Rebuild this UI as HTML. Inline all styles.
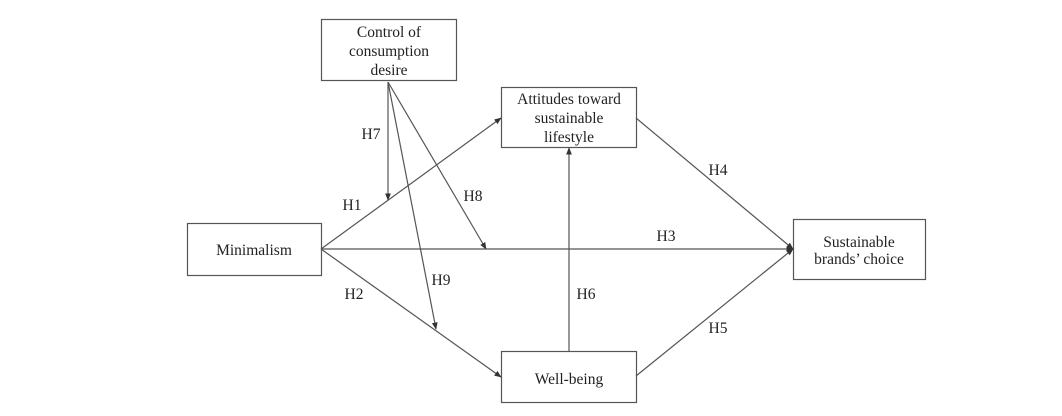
<!DOCTYPE html>
<html><head><meta charset="utf-8"><style>
html,body{margin:0;padding:0;background:#fff;}
svg{display:block;}
text{font-family:"Liberation Serif",serif;font-size:15.5px;fill:#222;}
</style></head><body>
<svg width="1062" height="416" viewBox="0 0 1062 416" xmlns="http://www.w3.org/2000/svg">
<defs>
<marker id="a" viewBox="0 0 10 10" refX="9" refY="5" markerWidth="6" markerHeight="6" orient="auto"><path d="M0,1 L10,5 L0,9 z" fill="#333"/></marker>
</defs>
<g fill="#fff" stroke="#555" stroke-width="1.2">
<rect x="321.5" y="19.5" width="135" height="61"/>
<rect x="501.5" y="87.5" width="135" height="60"/>
<rect x="187.5" y="223.5" width="134" height="52"/>
<rect x="793.5" y="219.5" width="132" height="60"/>
<rect x="501.5" y="351.5" width="135" height="51"/>
</g>
<g stroke="#555" stroke-width="1.2" fill="none" marker-end="url(#a)">
<line x1="388" y1="82" x2="388" y2="200"/>
<line x1="388" y1="82" x2="486" y2="249"/>
<line x1="388" y1="82" x2="436" y2="329"/>
<line x1="321" y1="249" x2="501" y2="118"/>
<line x1="321" y1="249" x2="793" y2="249"/>
<line x1="321" y1="249" x2="501" y2="377"/>
<line x1="569" y1="351" x2="569" y2="148"/>
<line x1="636" y1="118" x2="793" y2="249"/>
<line x1="636" y1="376" x2="793" y2="249"/>
</g>
<g text-anchor="middle">
<text x="389" y="37">Control of</text>
<text x="389" y="56">consumption</text>
<text x="389" y="75">desire</text>
<text x="569" y="104">Attitudes toward</text>
<text x="569" y="123">sustainable</text>
<text x="569" y="142">lifestyle</text>
<text x="254" y="255">Minimalism</text>
<text x="859" y="247">Sustainable</text>
<text x="859" y="264">brands’ choice</text>
<text x="569" y="384">Well-being</text>
<text x="371" y="139">H7</text>
<text x="352" y="210">H1</text>
<text x="473" y="201">H8</text>
<text x="666" y="241">H3</text>
<text x="718" y="175">H4</text>
<text x="441" y="285">H9</text>
<text x="354" y="299">H2</text>
<text x="586" y="299">H6</text>
<text x="718" y="333">H5</text>
</g>
</svg>
</body></html>
